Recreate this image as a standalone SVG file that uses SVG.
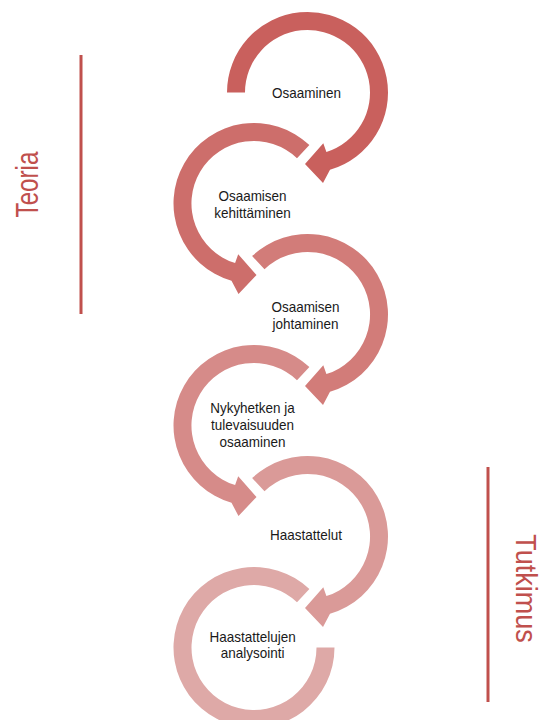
<svg xmlns="http://www.w3.org/2000/svg" width="544" height="720" viewBox="0 0 544 720">
<style>
.lbl{font-family:"Liberation Sans",Arial,sans-serif;font-size:15px;fill:#1a1a1a;text-anchor:middle}
.side{font-family:"Liberation Sans",Arial,sans-serif;fill:#C0504D;text-anchor:middle}
.bar{stroke:#C0504D;stroke-width:3}
</style>
<rect width="544" height="720" fill="#ffffff"/>
<g id="sides">
<line class="bar" x1="81" y1="55" x2="81" y2="314"/>
<line class="bar" x1="488" y1="467" x2="488" y2="702"/>
<text class="side" font-size="31" transform="translate(37.5,184.5) rotate(-90) scale(0.78,1)">Teoria</text>
<text class="side" font-size="30" transform="translate(516,588.5) rotate(90) scale(0.9,1)">Tutkimus</text>
</g>
<g id="connectors"></g>
<g id="n1">
<path fill="#C9605D" d="M227,92.5 A80.5,80.5 0 1 1 330,169.8 L323,183 L305,164 L323.3,143.3 L326.4,152.1 A62.5,62.5 0 1 0 245,92.5 Z"/>
<g transform="translate(306.5,98.3) scale(0.9,1)"><text class="lbl" x="0" y="0">Osaaminen</text></g>
</g>
<g id="n2">
<path fill="#CD6E6B" d="M309.4,145.1 A80.5,80.5 0 1 0 231.5,280.8 L238.5,294 L256.5,275 L238.2,254.3 L235.1,263.1 A62.5,62.5 0 1 1 297,158.2 Z"/>
<g transform="translate(252.5,201.3) scale(0.9,1)"><text class="lbl" x="0" y="0">Osaamisen</text><text class="lbl" x="0" y="16.7">kehittäminen</text></g>
</g>
<g id="n3">
<path fill="#D27C79" d="M252.1,256.1 A80.5,80.5 0 1 1 330,391.8 L323,405 L305,386 L323.3,365.3 L326.4,374.1 A62.5,62.5 0 1 0 264.5,269.2 Z"/>
<g transform="translate(305.5,312.3) scale(0.9,1)"><text class="lbl" x="0" y="0">Osaamisen</text><text class="lbl" x="0" y="16.7">johtaminen</text></g>
</g>
<g id="n4">
<path fill="#D68B89" d="M309.4,367.1 A80.5,80.5 0 1 0 231.5,502.8 L238.5,516 L256.5,497 L238.2,476.3 L235.1,485.1 A62.5,62.5 0 1 1 297,380.2 Z"/>
<g transform="translate(252.5,413.3) scale(0.9,1)"><text class="lbl" x="0" y="0">Nykyhetken ja</text><text class="lbl" x="0" y="16.7">tulevaisuuden</text><text class="lbl" x="0" y="33.4">osaaminen</text></g>
</g>
<g id="n5">
<path fill="#DA9A98" d="M252.1,478.1 A80.5,80.5 0 1 1 330,613.8 L323,627 L305,608 L323.3,587.3 L326.4,596.1 A62.5,62.5 0 1 0 264.5,491.2 Z"/>
<g transform="translate(306,540) scale(0.9,1)"><text class="lbl" x="0" y="0">Haastattelut</text></g>
</g>
<g id="n6">
<path fill="#DEA9A7" d="M309.4,589.1 A80.5,80.5 0 1 0 334.5,647.5 L316.5,647.5 A62.5,62.5 0 1 1 297,602.2 Z"/>
<g transform="translate(252.7,641.7) scale(0.9,1)"><text class="lbl" x="0" y="0">Haastattelujen</text><text class="lbl" x="0" y="16.7">analysointi</text></g>
</g>
</svg>
